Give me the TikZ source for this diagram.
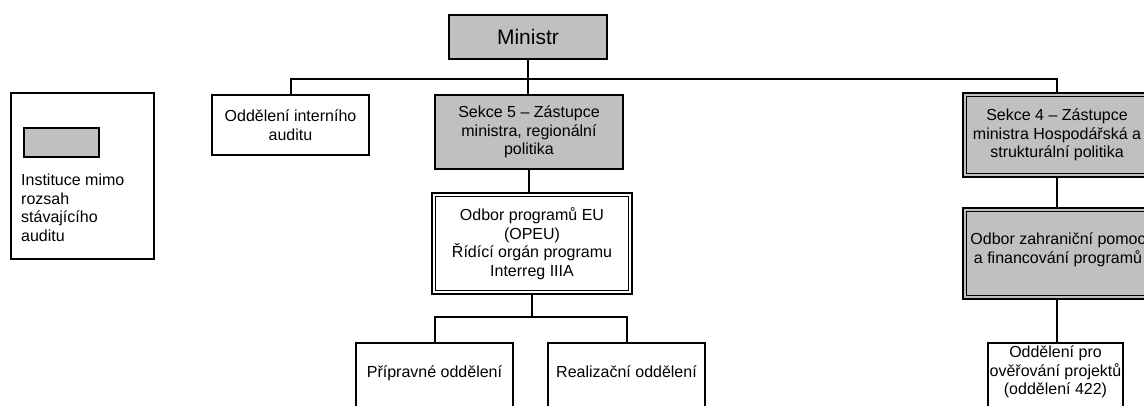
\documentclass[tikz,border=0pt]{standalone}
\usepackage{fontspec}
\setmainfont{Liberation Sans}
\usetikzlibrary{positioning,backgrounds}
\definecolor{unitgray}{RGB}{192,192,192}

\begin{document}
\begin{tikzpicture}[
      x=1pt, y=-1pt,
      every node/.style={font=\fontsize{16}{18.5}\selectfont},
      unit/.style={
         draw=black,
         line width=2pt,
         fill=white,
         align=center,
         inner sep=0pt},
      grayunit/.style={unit, fill=unitgray},
      dblunit/.style={unit, line width=1.6pt, double=white, double distance=2pt},
      dblgrayunit/.style={dblunit, fill=unitgray, double=unitgray},
      caption/.style={align=center, inner sep=0pt, anchor=north},
      link/.style={line width=2pt}
      ]
      \useasboundingbox (0,0) rectangle (1144,405);
      \clip (0,0) rectangle (1144,405);

      % legend
      \node[unit, minimum width=143, minimum height=166] (legend) at (82.5,176) {};
      \node[grayunit, minimum width=75, minimum height=29] (swatch) at (61.5,142.5) {};
      \node[align=left, inner sep=0pt, anchor=north west] (legendtext) at (21,174) {Instituce mimo\\rozsah\\stávajícího\\auditu};

      % top of the tree
      \node[grayunit, minimum width=158, minimum height=44, font=\fontsize{21}{24}\selectfont] (minister) at (528,37) {Ministr};
      \node[unit, minimum width=157, minimum height=60] (intaudit) at (290.5,125) {Oddělení interního\\auditu};
      \node[grayunit, minimum width=188, minimum height=74] (sekce5) at (529,132) {Sekce 5 – Zástupce\\ministra, regionální\\politika};
      \node[dblgrayunit, minimum width=184.6, minimum height=80.6] (sekce4) at (1057,135) {Sekce 4 – Zástupce\\ministra Hospodářská a\\strukturální politika};

      % sekce 5 branch
      \node[dblunit, minimum width=196.6, minimum height=97.6] (opeu) at (532,243.5) {Odbor programů EU\\(OPEU)\\Řídící orgán programu\\Interreg IIIA};
      \node[unit, minimum width=157, text height=34pt, text depth=35pt, anchor=north] (pripravne) at (434.5,342) {Přípravné oddělení};
      \node[unit, minimum width=157, text height=34pt, text depth=35pt, anchor=north] (realizace) at (626.5,342) {Realizační oddělení};

      % sekce 4 branch
      \node[dblgrayunit, minimum width=184.6, minimum height=87.6] (zahranici) at (1057,253.5) {};
      \node[align=center, inner sep=0pt] (zahranicitext) at (1058,250) {Odbor zahraniční pomoc\\a financování programů};
      \node[unit, minimum width=135, minimum height=70, anchor=north] (overeni) at (1055.5,342) {};
      \node[caption] (overenitext) at ([yshift=-4pt]overeni.north) {Oddělení pro\\ověřování projektů\\(oddělení 422)};

      \coordinate (topbus) at (0,79);
      \coordinate (lowbus) at (0,317);

      \begin{scope}[on background layer]
      \draw[link] (intaudit.north) |- (sekce4.north |- topbus) -- (sekce4.north);
      \draw[link] (pripravne.north) |- (realizace.north |- lowbus) -- (realizace.north);
      \draw[link] (opeu.south) -- (opeu.south |- lowbus);
      \foreach \i/\j in {% upper node/lower node
        minister/sekce5,
        sekce5/opeu,
        sekce4/zahranici,
        zahranici/overeni}
        \draw[link] (\i.south) -- (\i.south |- \j.north);
      \end{scope}

\end{tikzpicture}
\end{document}
